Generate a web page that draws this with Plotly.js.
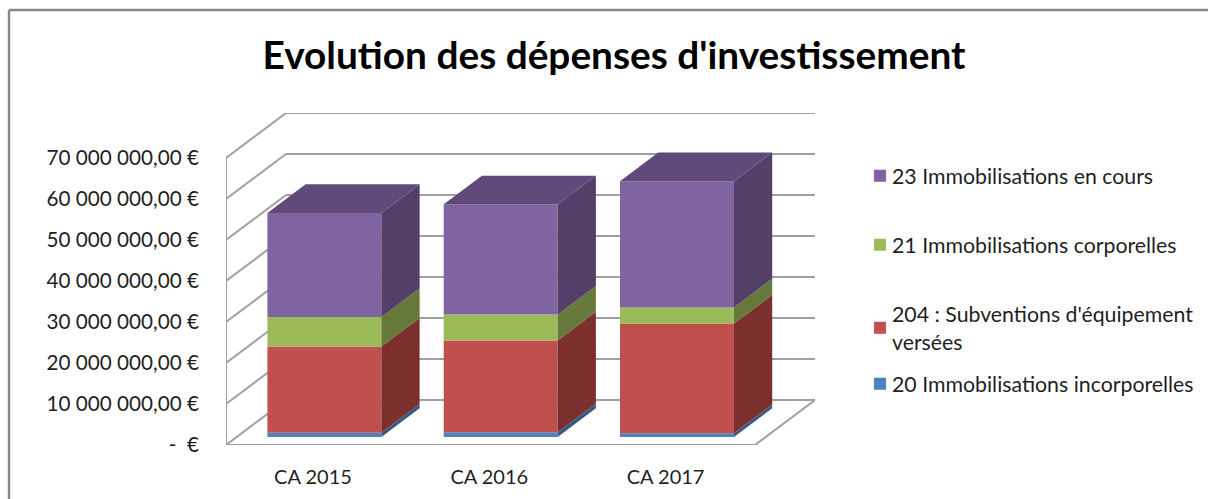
<!DOCTYPE html>
<html>
<head>
<meta charset="utf-8">
<script src="https://cdn.plot.ly/plotly-3.0.1.min.js"></script>
<style>html,body{margin:0;padding:0;background:#fff;overflow:hidden}</style>
</head>
<body>
<div id="chart" style="width:1208px;height:499px"></div>
<script>
const categories = ["CA 2015", "CA 2016", "CA 2017"];
const immoIncorporelles = [1050000, 1150000, 900000];
const subventions = [21000000, 22400000, 26800000];
const immoCorporelles = [7200000, 6300000, 3900000];
const immoEnCours = [25400000, 26900000, 30800000];
const tickValues = [0, 10000000, 20000000, 30000000, 40000000, 50000000, 60000000, 70000000];
const tickLabels = ["-\u00A0\u00A0€", "10 000 000,00 €", "20 000 000,00 €", "30 000 000,00 €", "40 000 000,00 €", "50 000 000,00 €", "60 000 000,00 €", "70 000 000,00 €"];
const seriesNames = ["20 Immobilisations incorporelles", "204 : Subventions d'équipement<br>versées", "21 Immobilisations corporelles", "23 Immobilisations en cours"];
const frontColors = ["#4F81BD", "#C0504D", "#9BBB59", "#8064A2"];
const sideColors = ["#355A85", "#7C302E", "#66793A", "#533F68"];
const topColor = "#604A7B";

const W = 1208, H = 499;
const L = 226, R = 815, T = 113, B = 445;
const pxPerUnit = 176.3, originPx = 314.2;
const pxPerEuro = 287 / 70000000;
const xRange = [(L - originPx) / pxPerUnit, (R - originPx) / pxPerUnit];
const yRange = [0, (B - T) / pxPerEuro];
const wallDx = 60 / pxPerUnit, wallDy = 45 / pxPerEuro;
const floorRight = (755 - originPx) / pxPerUnit;
const barDx = 38.2 / pxPerUnit, barDy = 28.7 / pxPerEuro;
const barWidth = 114 / pxPerUnit, barShift = 10.2 / pxPerUnit, barLift = 8 / pxPerEuro;
const GRID = "#A0A0A0", TXT = "#1f1f1f", FONT = "Lato, 'Open Sans', sans-serif";

const shapes = [];
function seg(x0, y0, x1, y1, w) {
  shapes.push({type: "line", layer: "below", xref: "x", yref: "y", x0, y0, x1, y1, line: {color: GRID, width: w || 2}});
}
seg(xRange[0], 0, xRange[0], 70000000);
seg(xRange[0], 0, floorRight, 0);
seg(floorRight, 0, floorRight + wallDx, wallDy);
tickValues.forEach(v => {
  seg(xRange[0], v, xRange[0] + wallDx, v + wallDy);
  seg(xRange[0] + wallDx, v + wallDy, xRange[1], v + wallDy);
});
// outer frame of the chart
const px = v => (v - L) / (R - L), py = v => (B - v) / (B - T);
shapes.push({type: "line", xref: "paper", yref: "paper", x0: px(9), x1: px(1208), y0: py(10), y1: py(10), line: {color: "#868686", width: 2.4}});
shapes.push({type: "line", xref: "paper", yref: "paper", x0: px(9), x1: px(9), y0: py(10), y1: py(499), line: {color: "#868686", width: 2.4}});

const allSeries = [immoIncorporelles, subventions, immoCorporelles, immoEnCours];
const cumul = categories.map(() => barLift);
const traces = [];
const faces = [];
allSeries.forEach((vals, s) => {
  const bases = cumul.slice();
  traces.push({
    type: "bar", name: seriesNames[s],
    x: categories.map((c, i) => i + barShift),
    y: vals, base: bases, width: barWidth,
    marker: {color: frontColors[s], line: {width: 0}},
    legend: s === 3 ? "legend" : "legend" + (4 - s),
    showlegend: true, hoverinfo: "skip"
  });
  categories.forEach((c, i) => {
    const xr = i + barShift + barWidth / 2, y0 = bases[i], y1 = y0 + vals[i];
    faces.push({type: "scatter", mode: "lines", showlegend: false, hoverinfo: "skip",
      x: [xr, xr, xr + barDx, xr + barDx, xr], y: [y0, y1, y1 + barDy, y0 + barDy, y0],
      fill: "toself", fillcolor: sideColors[s], line: {width: 0, color: sideColors[s]}});
    if (s === allSeries.length - 1) {
      const xl = xr - barWidth;
      faces.push({type: "scatter", mode: "lines", showlegend: false, hoverinfo: "skip",
        x: [xl, xr, xr + barDx, xl + barDx, xl], y: [y1, y1, y1 + barDy, y1 + barDy, y1],
        fill: "toself", fillcolor: topColor, line: {width: 0, color: topColor}});
    }
    cumul[i] = y1;
  });
});

const legendBox = y => ({x: px(852), xanchor: "left", y: py(y), yanchor: "middle",
  bgcolor: "rgba(0,0,0,0)", borderwidth: 0, font: {family: FONT, size: 21.3, color: TXT}, itemclick: false, itemdoubleclick: false});

const layout = {
  width: W, height: H, autosize: false, showlegend: true,
  paper_bgcolor: "#fff", plot_bgcolor: "#fff",
  margin: {l: L, r: W - R, t: T, b: H - B, pad: 0, autoexpand: false},
  title: {text: "Evolution des dépenses d'investissement", x: 614 / W, xanchor: "center", y: 1 - 55 / H, yanchor: "middle", yref: "container",
    font: {family: FONT, size: 38.8, weight: 700, color: "#000"}},
  xaxis: {range: xRange, tickmode: "array", tickvals: [-0.007, 0.993, 1.993], ticktext: categories, showgrid: false, zeroline: false, showline: false, ticks: "", ticklabelstandoff: 18,
    tickfont: {family: FONT, size: 20, color: TXT}},
  yaxis: {range: yRange, tickmode: "array", tickvals: tickValues, ticktext: tickLabels, showgrid: false, zeroline: false, showline: false, ticks: "", ticklabelstandoff: 26,
    tickfont: {family: FONT, size: 20.7, color: TXT}},
  barmode: "overlay",
  shapes,
  legend: legendBox(176), legend2: legendBox(245), legend3: legendBox(328), legend4: legendBox(384)
};
Plotly.newPlot("chart", traces.concat(faces), layout, {displayModeBar: false, staticPlot: true}).then(() => {
  // Excel keeps its swatches next to the label text, aligned with the first line
  document.querySelectorAll(".legendsymbols").forEach(g => {
    const row = g.closest(".traces");
    const label = row ? row.querySelector(".legendtext") : null;
    const twoLines = !!label && label.textContent.startsWith("204");
    g.setAttribute("transform", "translate(8," + (twoLines ? -14 : 0) + ")");
  });
});
</script>
</body>
</html>
